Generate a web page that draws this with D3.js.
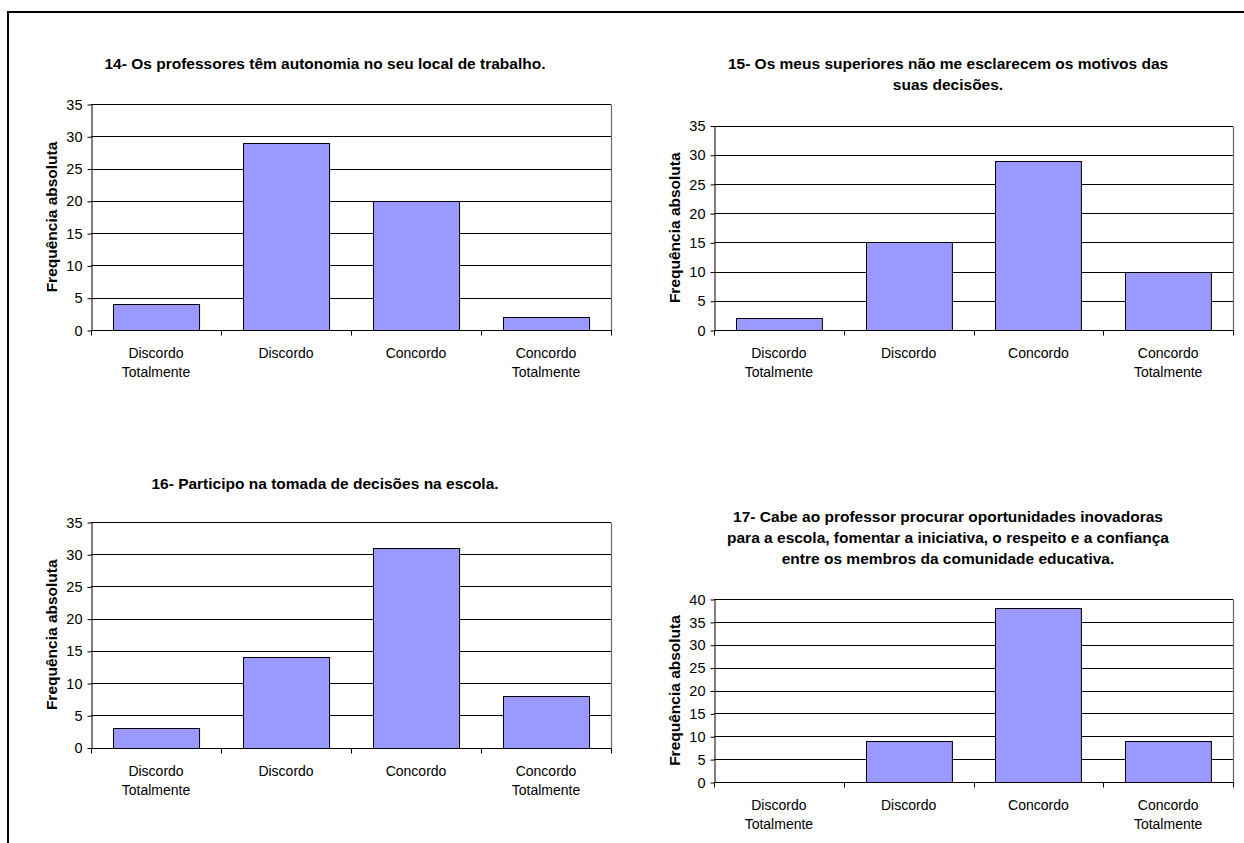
<!DOCTYPE html>
<html>
<head>
<meta charset="utf-8">
<script src="https://cdn.jsdelivr.net/npm/d3@7"></script>
<style>
  html, body { margin: 0; padding: 0; background: #fff; }
  svg { display: block; font-family: "Liberation Sans", Arial, Helvetica, sans-serif; }
</style>
</head>
<body>
<svg id="chart" width="1244" height="843"></svg>
<script>
// Response categories shared by every question
const categories = [
  ["Discordo", "Totalmente"],
  ["Discordo"],
  ["Concordo"],
  ["Concordo", "Totalmente"]
];

// Absolute frequencies per question
const q14Values = [4, 29, 20, 2];
const q15Values = [2, 15, 29, 10];
const q16Values = [3, 14, 31, 8];
const q17Values = [0, 9, 38, 9];

// Question titles (one entry per line)
const q14Title = ["14- Os professores têm autonomia no seu local de trabalho."];
const q15Title = ["15- Os meus superiores não me esclarecem os motivos das", "suas decisões."];
const q16Title = ["16- Participo na tomada de decisões na escola."];
const q17Title = ["17- Cabe ao professor procurar oportunidades inovadoras",
                  "para a escola, fomentar a iniciativa, o respeito e a confiança",
                  "entre os membros da comunidade educativa."];

// Y axis ticks
const ticks35 = [0, 5, 10, 15, 20, 25, 30, 35];
const ticks40 = [0, 5, 10, 15, 20, 25, 30, 35, 40];

const yAxisTitle = "Frequência absoluta";

// Panel layout: plot box, title anchor (baseline of first line)
const panels = [
  { values: q14Values, title: q14Title, ticks: ticks35, left: 91,  right: 611,  top: 104, bottom: 330, titleX: 325, titleY: 69 },
  { values: q15Values, title: q15Title, ticks: ticks35, left: 714, right: 1233, top: 125.5, bottom: 330, titleX: 948, titleY: 69 },
  { values: q16Values, title: q16Title, ticks: ticks35, left: 91,  right: 611,  top: 522, bottom: 747.5, titleX: 325, titleY: 489 },
  { values: q17Values, title: q17Title, ticks: ticks40, left: 714, right: 1233, top: 599, bottom: 782, titleX: 948, titleY: 522 }
];

const svg = d3.select("#chart");

// Outer frame (left and top edges visible)
svg.append("path")
  .attr("d", "M8,843 V12 H1244")
  .attr("fill", "none")
  .attr("stroke", "#000")
  .attr("stroke-width", 2);

const keys = categories.map(c => c.join(" "));

panels.forEach(p => {
  const g = svg.append("g");
  const x = d3.scaleBand().domain(keys).range([p.left, p.right]).paddingInner(0.338).paddingOuter(0.169);
  const xb = d3.scaleBand().domain(keys).range([p.left, p.right]);
  const y = d3.scaleLinear().domain([0, d3.max(p.ticks)]).range([p.bottom, p.top]);

  // Horizontal gridlines
  g.append("g").selectAll("line").data(p.ticks.filter(t => t > 0)).join("line")
    .attr("x1", p.left).attr("x2", p.right)
    .attr("y1", d => Math.round(y(d)) + 0.5).attr("y2", d => Math.round(y(d)) + 0.5)
    .attr("stroke", "#000").attr("stroke-width", 1);

  // Right border of plot area
  g.append("line")
    .attr("x1", p.right + 0.5).attr("x2", p.right + 0.5)
    .attr("y1", Math.round(y(d3.max(p.ticks))) + 0.5).attr("y2", Math.round(p.bottom) + 0.5)
    .attr("stroke", "#666").attr("stroke-width", 1.2);

  // Bars
  g.append("g").selectAll("rect").data(p.values).join("rect")
    .attr("x", (d, i) => Math.round(x(keys[i])) + 0.5)
    .attr("width", x.bandwidth())
    .attr("y", d => Math.round(y(d)) + 0.5)
    .attr("height", d => Math.max(0, Math.round(y(0)) - Math.round(y(d))))
    .attr("fill", "#9999ff")
    .attr("stroke", d => d > 0 ? "#000" : "none")
    .attr("stroke-width", 1);

  // Y axis
  const yAxis = d3.axisLeft(y).tickValues(p.ticks).tickSize(4).tickSizeOuter(0).tickPadding(5);
  const ya = g.append("g").attr("transform", `translate(${p.left + 0.5},0.5)`).call(yAxis);
  ya.select(".domain").attr("stroke", "#000");
  ya.selectAll(".tick line").attr("stroke", "#000");
  ya.selectAll(".tick text").attr("font-size", 14.5).attr("fill", "#000")
    .attr("font-family", "'Liberation Sans', Arial, sans-serif");

  // X axis with ticks at category boundaries
  const xa = g.append("g").attr("transform", `translate(0,${Math.round(p.bottom) + 0.5})`);
  xa.append("line").attr("x1", p.left).attr("x2", p.right + 1).attr("stroke", "#000");
  const bounds = keys.map(k => xb(k)).concat([p.right]);
  xa.selectAll("line.tk").data(bounds).join("line").attr("class", "tk")
    .attr("x1", d => Math.round(d) + 0.5).attr("x2", d => Math.round(d) + 0.5)
    .attr("y1", 0).attr("y2", 5).attr("stroke", "#000");

  // Category labels
  const lbl = xa.selectAll("text.cat").data(categories).join("text").attr("class", "cat")
    .attr("transform", (d, i) => `translate(${xb(keys[i]) + xb.bandwidth() / 2},0)`)
    .attr("text-anchor", "middle").attr("font-size", 14).attr("fill", "#000");
  lbl.selectAll("tspan").data(d => d).join("tspan")
    .attr("x", 0).attr("y", (d, i) => 27.5 + i * 19).text(d => d);

  // Y axis title
  g.append("text")
    .attr("transform", `translate(${p.left - 34},${(p.top + p.bottom) / 2}) rotate(-90)`)
    .attr("text-anchor", "middle").attr("font-size", 15.5).attr("font-weight", "bold")
    .text(yAxisTitle);

  // Panel title
  const t = g.append("text")
    .attr("transform", `translate(${p.titleX},${p.titleY})`)
    .attr("text-anchor", "middle").attr("font-size", 15.5).attr("font-weight", "bold");
  t.selectAll("tspan").data(p.title).join("tspan")
    .attr("x", 0).attr("y", (d, i) => i * 21).text(d => d);
});
</script>
</body>
</html>
